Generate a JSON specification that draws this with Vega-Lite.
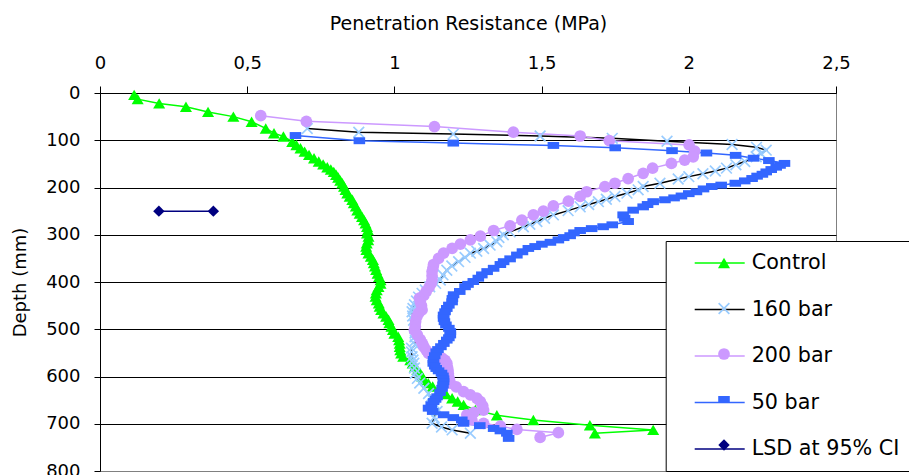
{
  "$schema": "https://vega.github.io/schema/vega-lite/v6.json",
  "width": 736,
  "height": 378,
  "autosize": {"type": "none"},
  "padding": {"left": 100, "top": 93, "right": 73, "bottom": 4},
  "background": "white",
  "config": {"view": {"stroke": "#808080", "strokeWidth": 1}, "font": "DejaVu Sans"},
  "datasets": {
    "pr": [
      {"series":"Control","depth":4,"mpa":0.116},{"series":"Control","depth":13,"mpa":0.128},{"series":"Control","depth":22,"mpa":0.201},{"series":"Control","depth":29,"mpa":0.292},{"series":"Control","depth":40,"mpa":0.367},{"series":"Control","depth":50,"mpa":0.453},{"series":"Control","depth":61,"mpa":0.515},{"series":"Control","depth":75,"mpa":0.563},{"series":"Control","depth":85,"mpa":0.591},{"series":"Control","depth":92,"mpa":0.623},{"series":"Control","depth":103,"mpa":0.653},{"series":"Control","depth":110,"mpa":0.667},{"series":"Control","depth":117,"mpa":0.681},{"series":"Control","depth":124,"mpa":0.695},{"series":"Control","depth":131,"mpa":0.71},{"series":"Control","depth":138,"mpa":0.727},{"series":"Control","depth":145,"mpa":0.743},{"series":"Control","depth":151,"mpa":0.758},{"series":"Control","depth":157,"mpa":0.772},{"series":"Control","depth":162,"mpa":0.784},{"series":"Control","depth":167,"mpa":0.794},{"series":"Control","depth":173,"mpa":0.802},{"series":"Control","depth":179,"mpa":0.809},{"series":"Control","depth":185,"mpa":0.816},{"series":"Control","depth":191,"mpa":0.823},{"series":"Control","depth":198,"mpa":0.829},{"series":"Control","depth":205,"mpa":0.834},{"series":"Control","depth":212,"mpa":0.84},{"series":"Control","depth":219,"mpa":0.848},{"series":"Control","depth":226,"mpa":0.857},{"series":"Control","depth":233,"mpa":0.862},{"series":"Control","depth":240,"mpa":0.869},{"series":"Control","depth":248,"mpa":0.874},{"series":"Control","depth":255,"mpa":0.882},{"series":"Control","depth":262,"mpa":0.89},{"series":"Control","depth":269,"mpa":0.897},{"series":"Control","depth":276,"mpa":0.902},{"series":"Control","depth":283,"mpa":0.907},{"series":"Control","depth":290,"mpa":0.91},{"series":"Control","depth":297,"mpa":0.907},{"series":"Control","depth":304,"mpa":0.912},{"series":"Control","depth":311,"mpa":0.911},{"series":"Control","depth":318,"mpa":0.906},{"series":"Control","depth":325,"mpa":0.904},{"series":"Control","depth":332,"mpa":0.905},{"series":"Control","depth":339,"mpa":0.912},{"series":"Control","depth":346,"mpa":0.92},{"series":"Control","depth":353,"mpa":0.927},{"series":"Control","depth":360,"mpa":0.93},{"series":"Control","depth":367,"mpa":0.934},{"series":"Control","depth":374,"mpa":0.938},{"series":"Control","depth":382,"mpa":0.943},{"series":"Control","depth":389,"mpa":0.948},{"series":"Control","depth":396,"mpa":0.953},{"series":"Control","depth":403,"mpa":0.953},{"series":"Control","depth":410,"mpa":0.946},{"series":"Control","depth":417,"mpa":0.94},{"series":"Control","depth":424,"mpa":0.937},{"series":"Control","depth":431,"mpa":0.936},{"series":"Control","depth":438,"mpa":0.94},{"series":"Control","depth":445,"mpa":0.947},{"series":"Control","depth":452,"mpa":0.95},{"series":"Control","depth":459,"mpa":0.955},{"series":"Control","depth":466,"mpa":0.963},{"series":"Control","depth":473,"mpa":0.972},{"series":"Control","depth":480,"mpa":0.98},{"series":"Control","depth":487,"mpa":0.983},{"series":"Control","depth":494,"mpa":0.99},{"series":"Control","depth":501,"mpa":0.995},{"series":"Control","depth":509,"mpa":1.0},{"series":"Control","depth":516,"mpa":1.013},{"series":"Control","depth":523,"mpa":1.016},{"series":"Control","depth":530,"mpa":1.018},{"series":"Control","depth":537,"mpa":1.018},{"series":"Control","depth":544,"mpa":1.02},{"series":"Control","depth":551,"mpa":1.023},{"series":"Control","depth":558,"mpa":1.03},{"series":"Control","depth":565,"mpa":1.054},{"series":"Control","depth":572,"mpa":1.062},{"series":"Control","depth":579,"mpa":1.07},{"series":"Control","depth":586,"mpa":1.078},{"series":"Control","depth":593,"mpa":1.088},{"series":"Control","depth":600,"mpa":1.095},{"series":"Control","depth":607,"mpa":1.1},{"series":"Control","depth":614,"mpa":1.115},{"series":"Control","depth":621,"mpa":1.13},{"series":"Control","depth":629,"mpa":1.156},{"series":"Control","depth":637,"mpa":1.175},{"series":"Control","depth":646,"mpa":1.196},{"series":"Control","depth":653,"mpa":1.215},{"series":"Control","depth":660,"mpa":1.235},{"series":"Control","depth":671,"mpa":1.275},{"series":"Control","depth":682,"mpa":1.348},{"series":"Control","depth":692,"mpa":1.472},{"series":"Control","depth":703,"mpa":1.664},{"series":"Control","depth":713,"mpa":1.879},{"series":"Control","depth":720,"mpa":1.681},

      {"series":"160 bar","depth":75,"mpa":0.704},{"series":"160 bar","depth":83,"mpa":0.879},{"series":"160 bar","depth":87,"mpa":1.2},{"series":"160 bar","depth":91,"mpa":1.495},{"series":"160 bar","depth":96,"mpa":1.74},{"series":"160 bar","depth":102,"mpa":1.926},{"series":"160 bar","depth":109,"mpa":2.147},{"series":"160 bar","depth":115,"mpa":2.23},{"series":"160 bar","depth":121,"mpa":2.263},{"series":"160 bar","depth":128,"mpa":2.245},{"series":"160 bar","depth":135,"mpa":2.229},{"series":"160 bar","depth":145,"mpa":2.19},{"series":"160 bar","depth":152,"mpa":2.16},{"series":"160 bar","depth":159,"mpa":2.128},{"series":"160 bar","depth":165,"mpa":2.09},{"series":"160 bar","depth":171,"mpa":2.048},{"series":"160 bar","depth":177,"mpa":2.0},{"series":"160 bar","depth":182,"mpa":1.964},{"series":"160 bar","depth":191,"mpa":1.902},{"series":"160 bar","depth":198,"mpa":1.845},{"series":"160 bar","depth":205,"mpa":1.828},{"series":"160 bar","depth":212,"mpa":1.79},{"series":"160 bar","depth":219,"mpa":1.749},{"series":"160 bar","depth":225,"mpa":1.72},{"series":"160 bar","depth":230,"mpa":1.693},{"series":"160 bar","depth":236,"mpa":1.66},{"series":"160 bar","depth":241,"mpa":1.631},{"series":"160 bar","depth":249,"mpa":1.59},{"series":"160 bar","depth":258,"mpa":1.54},{"series":"160 bar","depth":265,"mpa":1.51},{"series":"160 bar","depth":272,"mpa":1.484},{"series":"160 bar","depth":278,"mpa":1.46},{"series":"160 bar","depth":283,"mpa":1.438},{"series":"160 bar","depth":294,"mpa":1.393},{"series":"160 bar","depth":300,"mpa":1.37},{"series":"160 bar","depth":306,"mpa":1.355},{"series":"160 bar","depth":315,"mpa":1.348},{"series":"160 bar","depth":322,"mpa":1.325},{"series":"160 bar","depth":329,"mpa":1.303},{"series":"160 bar","depth":335,"mpa":1.28},{"series":"160 bar","depth":339,"mpa":1.258},{"series":"160 bar","depth":348,"mpa":1.24},{"series":"160 bar","depth":357,"mpa":1.218},{"series":"160 bar","depth":366,"mpa":1.195},{"series":"160 bar","depth":375,"mpa":1.178},{"series":"160 bar","depth":385,"mpa":1.165},{"series":"160 bar","depth":396,"mpa":1.156},{"series":"160 bar","depth":403,"mpa":1.14},{"series":"160 bar","depth":410,"mpa":1.12},{"series":"160 bar","depth":417,"mpa":1.105},{"series":"160 bar","depth":424,"mpa":1.094},{"series":"160 bar","depth":432,"mpa":1.082},{"series":"160 bar","depth":440,"mpa":1.075},{"series":"160 bar","depth":448,"mpa":1.068},{"series":"160 bar","depth":456,"mpa":1.063},{"series":"160 bar","depth":463,"mpa":1.06},{"series":"160 bar","depth":472,"mpa":1.062},{"series":"160 bar","depth":481,"mpa":1.065},{"series":"160 bar","depth":490,"mpa":1.068},{"series":"160 bar","depth":499,"mpa":1.07},{"series":"160 bar","depth":508,"mpa":1.07},{"series":"160 bar","depth":516,"mpa":1.07},{"series":"160 bar","depth":524,"mpa":1.071},{"series":"160 bar","depth":533,"mpa":1.071},{"series":"160 bar","depth":540,"mpa":1.058},{"series":"160 bar","depth":548,"mpa":1.058},{"series":"160 bar","depth":558,"mpa":1.06},{"series":"160 bar","depth":565,"mpa":1.063},{"series":"160 bar","depth":572,"mpa":1.066},{"series":"160 bar","depth":582,"mpa":1.068},{"series":"160 bar","depth":593,"mpa":1.071},{"series":"160 bar","depth":604,"mpa":1.078},{"series":"160 bar","depth":614,"mpa":1.086},{"series":"160 bar","depth":625,"mpa":1.1},{"series":"160 bar","depth":636,"mpa":1.116},{"series":"160 bar","depth":643,"mpa":1.125},{"series":"160 bar","depth":650,"mpa":1.13},{"series":"160 bar","depth":657,"mpa":1.135},{"series":"160 bar","depth":664,"mpa":1.139},{"series":"160 bar","depth":674,"mpa":1.145},{"series":"160 bar","depth":687,"mpa":1.135},{"series":"160 bar","depth":699,"mpa":1.128},{"series":"160 bar","depth":707,"mpa":1.16},{"series":"160 bar","depth":713,"mpa":1.196},{"series":"160 bar","depth":720,"mpa":1.258},

      {"series":"200 bar","depth":48,"mpa":0.546},{"series":"200 bar","depth":60,"mpa":0.701},{"series":"200 bar","depth":71,"mpa":1.136},{"series":"200 bar","depth":83,"mpa":1.404},{"series":"200 bar","depth":91,"mpa":1.631},{"series":"200 bar","depth":101,"mpa":1.73},{"series":"200 bar","depth":110,"mpa":2.001},{"series":"200 bar","depth":123,"mpa":2.02},{"series":"200 bar","depth":135,"mpa":2.015},{"series":"200 bar","depth":142,"mpa":1.986},{"series":"200 bar","depth":149,"mpa":1.941},{"series":"200 bar","depth":159,"mpa":1.877},{"series":"200 bar","depth":170,"mpa":1.845},{"series":"200 bar","depth":181,"mpa":1.794},{"series":"200 bar","depth":191,"mpa":1.749},{"series":"200 bar","depth":198,"mpa":1.715},{"series":"200 bar","depth":209,"mpa":1.653},{"series":"200 bar","depth":219,"mpa":1.631},{"series":"200 bar","depth":229,"mpa":1.591},{"series":"200 bar","depth":239,"mpa":1.54},{"series":"200 bar","depth":250,"mpa":1.506},{"series":"200 bar","depth":258,"mpa":1.472},{"series":"200 bar","depth":269,"mpa":1.433},{"series":"200 bar","depth":281,"mpa":1.393},{"series":"200 bar","depth":291,"mpa":1.337},{"series":"200 bar","depth":303,"mpa":1.292},{"series":"200 bar","depth":311,"mpa":1.258},{"series":"200 bar","depth":320,"mpa":1.224},{"series":"200 bar","depth":329,"mpa":1.196},{"series":"200 bar","depth":339,"mpa":1.167},{"series":"200 bar","depth":350,"mpa":1.15},{"series":"200 bar","depth":363,"mpa":1.133},{"series":"200 bar","depth":370,"mpa":1.131},{"series":"200 bar","depth":378,"mpa":1.128},{"series":"200 bar","depth":387,"mpa":1.128},{"series":"200 bar","depth":396,"mpa":1.128},{"series":"200 bar","depth":403,"mpa":1.125},{"series":"200 bar","depth":411,"mpa":1.118},{"series":"200 bar","depth":420,"mpa":1.108},{"series":"200 bar","depth":428,"mpa":1.1},{"series":"200 bar","depth":434,"mpa":1.085},{"series":"200 bar","depth":442,"mpa":1.088},{"series":"200 bar","depth":450,"mpa":1.092},{"series":"200 bar","depth":459,"mpa":1.094},{"series":"200 bar","depth":466,"mpa":1.082},{"series":"200 bar","depth":474,"mpa":1.076},{"series":"200 bar","depth":484,"mpa":1.072},{"series":"200 bar","depth":494,"mpa":1.071},{"series":"200 bar","depth":502,"mpa":1.068},{"series":"200 bar","depth":512,"mpa":1.078},{"series":"200 bar","depth":522,"mpa":1.088},{"series":"200 bar","depth":530,"mpa":1.095},{"series":"200 bar","depth":537,"mpa":1.1},{"series":"200 bar","depth":544,"mpa":1.108},{"series":"200 bar","depth":551,"mpa":1.116},{"series":"200 bar","depth":556,"mpa":1.14},{"series":"200 bar","depth":561,"mpa":1.162},{"series":"200 bar","depth":566,"mpa":1.172},{"series":"200 bar","depth":572,"mpa":1.178},{"series":"200 bar","depth":580,"mpa":1.18},{"series":"200 bar","depth":586,"mpa":1.182},{"series":"200 bar","depth":593,"mpa":1.183},{"series":"200 bar","depth":600,"mpa":1.184},{"series":"200 bar","depth":607,"mpa":1.187},{"series":"200 bar","depth":614,"mpa":1.19},{"series":"200 bar","depth":622,"mpa":1.21},{"series":"200 bar","depth":632,"mpa":1.235},{"series":"200 bar","depth":639,"mpa":1.258},{"series":"200 bar","depth":646,"mpa":1.28},{"series":"200 bar","depth":653,"mpa":1.292},{"series":"200 bar","depth":662,"mpa":1.3},{"series":"200 bar","depth":671,"mpa":1.303},{"series":"200 bar","depth":676,"mpa":1.27},{"series":"200 bar","depth":681,"mpa":1.246},{"series":"200 bar","depth":687,"mpa":1.255},{"series":"200 bar","depth":692,"mpa":1.263},{"series":"200 bar","depth":699,"mpa":1.303},{"series":"200 bar","depth":705,"mpa":1.36},{"series":"200 bar","depth":712,"mpa":1.416},{"series":"200 bar","depth":719,"mpa":1.557},{"series":"200 bar","depth":729,"mpa":1.495},

      {"series":"50 bar","depth":90,"mpa":0.664},{"series":"50 bar","depth":101,"mpa":0.881},{"series":"50 bar","depth":106,"mpa":1.2},{"series":"50 bar","depth":111,"mpa":1.54},{"series":"50 bar","depth":116,"mpa":1.75},{"series":"50 bar","depth":122,"mpa":1.943},{"series":"50 bar","depth":127,"mpa":2.06},{"series":"50 bar","depth":132,"mpa":2.159},{"series":"50 bar","depth":138,"mpa":2.22},{"series":"50 bar","depth":143,"mpa":2.272},{"series":"50 bar","depth":149,"mpa":2.325},{"series":"50 bar","depth":153,"mpa":2.31},{"series":"50 bar","depth":157,"mpa":2.297},{"series":"50 bar","depth":162,"mpa":2.28},{"series":"50 bar","depth":167,"mpa":2.263},{"series":"50 bar","depth":172,"mpa":2.25},{"series":"50 bar","depth":176,"mpa":2.232},{"series":"50 bar","depth":181,"mpa":2.215},{"series":"50 bar","depth":186,"mpa":2.19},{"series":"50 bar","depth":191,"mpa":2.158},{"series":"50 bar","depth":195,"mpa":2.11},{"series":"50 bar","depth":198,"mpa":2.078},{"series":"50 bar","depth":203,"mpa":2.05},{"series":"50 bar","depth":209,"mpa":2.026},{"series":"50 bar","depth":213,"mpa":2.0},{"series":"50 bar","depth":218,"mpa":1.975},{"series":"50 bar","depth":222,"mpa":1.95},{"series":"50 bar","depth":226,"mpa":1.919},{"series":"50 bar","depth":230,"mpa":1.879},{"series":"50 bar","depth":236,"mpa":1.86},{"series":"50 bar","depth":241,"mpa":1.845},{"series":"50 bar","depth":248,"mpa":1.811},{"series":"50 bar","depth":258,"mpa":1.777},{"series":"50 bar","depth":265,"mpa":1.782},{"series":"50 bar","depth":272,"mpa":1.794},{"series":"50 bar","depth":279,"mpa":1.74},{"series":"50 bar","depth":283,"mpa":1.709},{"series":"50 bar","depth":287,"mpa":1.67},{"series":"50 bar","depth":291,"mpa":1.631},{"series":"50 bar","depth":296,"mpa":1.61},{"series":"50 bar","depth":302,"mpa":1.597},{"series":"50 bar","depth":306,"mpa":1.575},{"series":"50 bar","depth":311,"mpa":1.557},{"series":"50 bar","depth":316,"mpa":1.53},{"series":"50 bar","depth":320,"mpa":1.501},{"series":"50 bar","depth":325,"mpa":1.478},{"series":"50 bar","depth":329,"mpa":1.455},{"series":"50 bar","depth":336,"mpa":1.435},{"series":"50 bar","depth":343,"mpa":1.416},{"series":"50 bar","depth":351,"mpa":1.393},{"series":"50 bar","depth":357,"mpa":1.371},{"series":"50 bar","depth":363,"mpa":1.36},{"series":"50 bar","depth":371,"mpa":1.337},{"series":"50 bar","depth":378,"mpa":1.315},{"series":"50 bar","depth":385,"mpa":1.297},{"series":"50 bar","depth":392,"mpa":1.285},{"series":"50 bar","depth":399,"mpa":1.268},{"series":"50 bar","depth":405,"mpa":1.25},{"series":"50 bar","depth":410,"mpa":1.24},{"series":"50 bar","depth":420,"mpa":1.222},{"series":"50 bar","depth":427,"mpa":1.201},{"series":"50 bar","depth":435,"mpa":1.197},{"series":"50 bar","depth":442,"mpa":1.196},{"series":"50 bar","depth":449,"mpa":1.185},{"series":"50 bar","depth":456,"mpa":1.178},{"series":"50 bar","depth":463,"mpa":1.172},{"series":"50 bar","depth":470,"mpa":1.167},{"series":"50 bar","depth":477,"mpa":1.167},{"series":"50 bar","depth":484,"mpa":1.17},{"series":"50 bar","depth":491,"mpa":1.175},{"series":"50 bar","depth":498,"mpa":1.185},{"series":"50 bar","depth":505,"mpa":1.19},{"series":"50 bar","depth":512,"mpa":1.19},{"series":"50 bar","depth":518,"mpa":1.185},{"series":"50 bar","depth":523,"mpa":1.178},{"series":"50 bar","depth":530,"mpa":1.168},{"series":"50 bar","depth":537,"mpa":1.158},{"series":"50 bar","depth":543,"mpa":1.148},{"series":"50 bar","depth":548,"mpa":1.142},{"series":"50 bar","depth":556,"mpa":1.137},{"series":"50 bar","depth":564,"mpa":1.133},{"series":"50 bar","depth":572,"mpa":1.132},{"series":"50 bar","depth":578,"mpa":1.137},{"series":"50 bar","depth":583,"mpa":1.142},{"series":"50 bar","depth":588,"mpa":1.15},{"series":"50 bar","depth":593,"mpa":1.16},{"series":"50 bar","depth":599,"mpa":1.165},{"series":"50 bar","depth":605,"mpa":1.167},{"series":"50 bar","depth":611,"mpa":1.167},{"series":"50 bar","depth":618,"mpa":1.165},{"series":"50 bar","depth":625,"mpa":1.162},{"series":"50 bar","depth":634,"mpa":1.155},{"series":"50 bar","depth":643,"mpa":1.145},{"series":"50 bar","depth":648,"mpa":1.14},{"series":"50 bar","depth":653,"mpa":1.133},{"series":"50 bar","depth":660,"mpa":1.125},{"series":"50 bar","depth":667,"mpa":1.116},{"series":"50 bar","depth":674,"mpa":1.13},{"series":"50 bar","depth":681,"mpa":1.167},{"series":"50 bar","depth":687,"mpa":1.2},{"series":"50 bar","depth":692,"mpa":1.229},{"series":"50 bar","depth":699,"mpa":1.235},{"series":"50 bar","depth":704,"mpa":1.29},{"series":"50 bar","depth":710,"mpa":1.337},{"series":"50 bar","depth":715,"mpa":1.36},{"series":"50 bar","depth":720,"mpa":1.382},{"series":"50 bar","depth":731,"mpa":1.388},

      {"series":"LSD at 95% CI","depth":250,"mpa":0.2},{"series":"LSD at 95% CI","depth":250,"mpa":0.385}
    ]
  },
  "data": {"name": "pr"},
  "encoding": {
    "x": {
      "field": "mpa", "type": "quantitative",
      "scale": {"domain": [0, 2.5], "nice": false, "zero": false},
      "axis": {
        "orient": "top", "values": [0, 0.5, 1, 1.5, 2, 2.5],
        "labelExpr": "replace(format(datum.value, '~g'), '.', ',')",
        "title": "Penetration Resistance (MPa)",
        "titleFont": "DejaVu Sans", "titleFontSize": 19, "titleFontWeight": "normal", "titleColor": "black", "titlePadding": 21,
        "labelFont": "DejaVu Sans", "labelFontSize": 18, "labelColor": "black", "labelPadding": 14,
        "labelFlush": false, "labelOverlap": false,
        "tickSize": 7, "tickColor": "black", "domainColor": "black", "grid": false
      }
    },
    "y": {
      "field": "depth", "type": "quantitative",
      "scale": {"domain": [0, 800], "reverse": true, "nice": false, "zero": false},
      "axis": {
        "values": [0, 100, 200, 300, 400, 500, 600, 700, 800],
        "title": "Depth (mm)",
        "titleFont": "DejaVu Sans", "titleFontSize": 18, "titleFontWeight": "normal", "titleColor": "black", "titlePadding": 16,
        "labelFont": "DejaVu Sans", "labelFontSize": 18, "labelColor": "black", "labelPadding": 14,
        "labelFlush": false, "labelOverlap": false,
        "tickSize": 6, "tickColor": "black", "domainColor": "black",
        "grid": true, "gridWidth": 1,
        "gridColor": {"condition": {"test": "datum.value === 800", "value": "#808080"}, "value": "#000000"}
      }
    }
  },
  "layer": [
    {
      "mark": {"type": "line", "strokeWidth": 1.5},
      "encoding": {
        "stroke": {
          "field": "series", "type": "nominal",
          "sort": ["Control", "160 bar", "200 bar", "50 bar", "LSD at 95% CI"],
          "scale": {"range": ["#00FF00", "#000000", "#CC99FF", "#3366FF", "#000080"]},
          "legend": {
            "orient": "none", "legendX": 565.7, "legendY": 148, "title": null,
            "symbolType": "stroke", "symbolSize": 2500, "symbolStrokeWidth": 1.5,
            "labelFont": "DejaVu Sans", "labelFontSize": 20.7, "labelColor": "black", "labelLimit": 400,
            "padding": 12, "strokeColor": "black", "fillColor": "white",
            "rowPadding": 25.5, "clipHeight": 20, "symbolOffset": 16, "labelOffset": 6, "zindex": 1
          }
        },
        "order": {"field": "depth", "type": "quantitative"}
      }
    },
    {
      "mark": {"type": "point", "filled": true, "opacity": 1, "strokeWidth": 0},
      "encoding": {
        "color": {
          "field": "series", "type": "nominal",
          "scale": {"domain": ["Control", "160 bar", "200 bar", "50 bar", "LSD at 95% CI"], "range": ["#00FF00", "#99CCFF", "#CC99FF", "#3366FF", "#000080"]},
          "legend": {
            "orient": "none", "legendX": 602, "legendY": 148, "title": null,
            "labelFont": "DejaVu Sans", "labelFontSize": 20, "labelExpr": "''",
            "padding": 12, "rowPadding": 25.5, "clipHeight": 20, "symbolStrokeWidth": 0, "symbolOpacity": 1, "zindex": 2
          }
        },
        "shape": {
          "field": "series", "type": "nominal",
          "scale": {"domain": ["Control", "160 bar", "200 bar", "50 bar", "LSD at 95% CI"], "range": ["triangle-up", "M-1,-0.8L-0.8,-1L0,-0.2L0.8,-1L1,-0.8L0.2,0L1,0.8L0.8,1L0,0.2L-0.8,1L-1,0.8L-0.2,0Z", "circle", "M-1,-0.6H1V0.6H-1Z", "diamond"]}
        },
        "size": {
          "field": "series", "type": "ordinal",
          "scale": {"domain": ["Control", "160 bar", "200 bar", "50 bar", "LSD at 95% CI"], "range": [145, 130, 115, 64, 130]}
        }
      }
    }
  ]
}
